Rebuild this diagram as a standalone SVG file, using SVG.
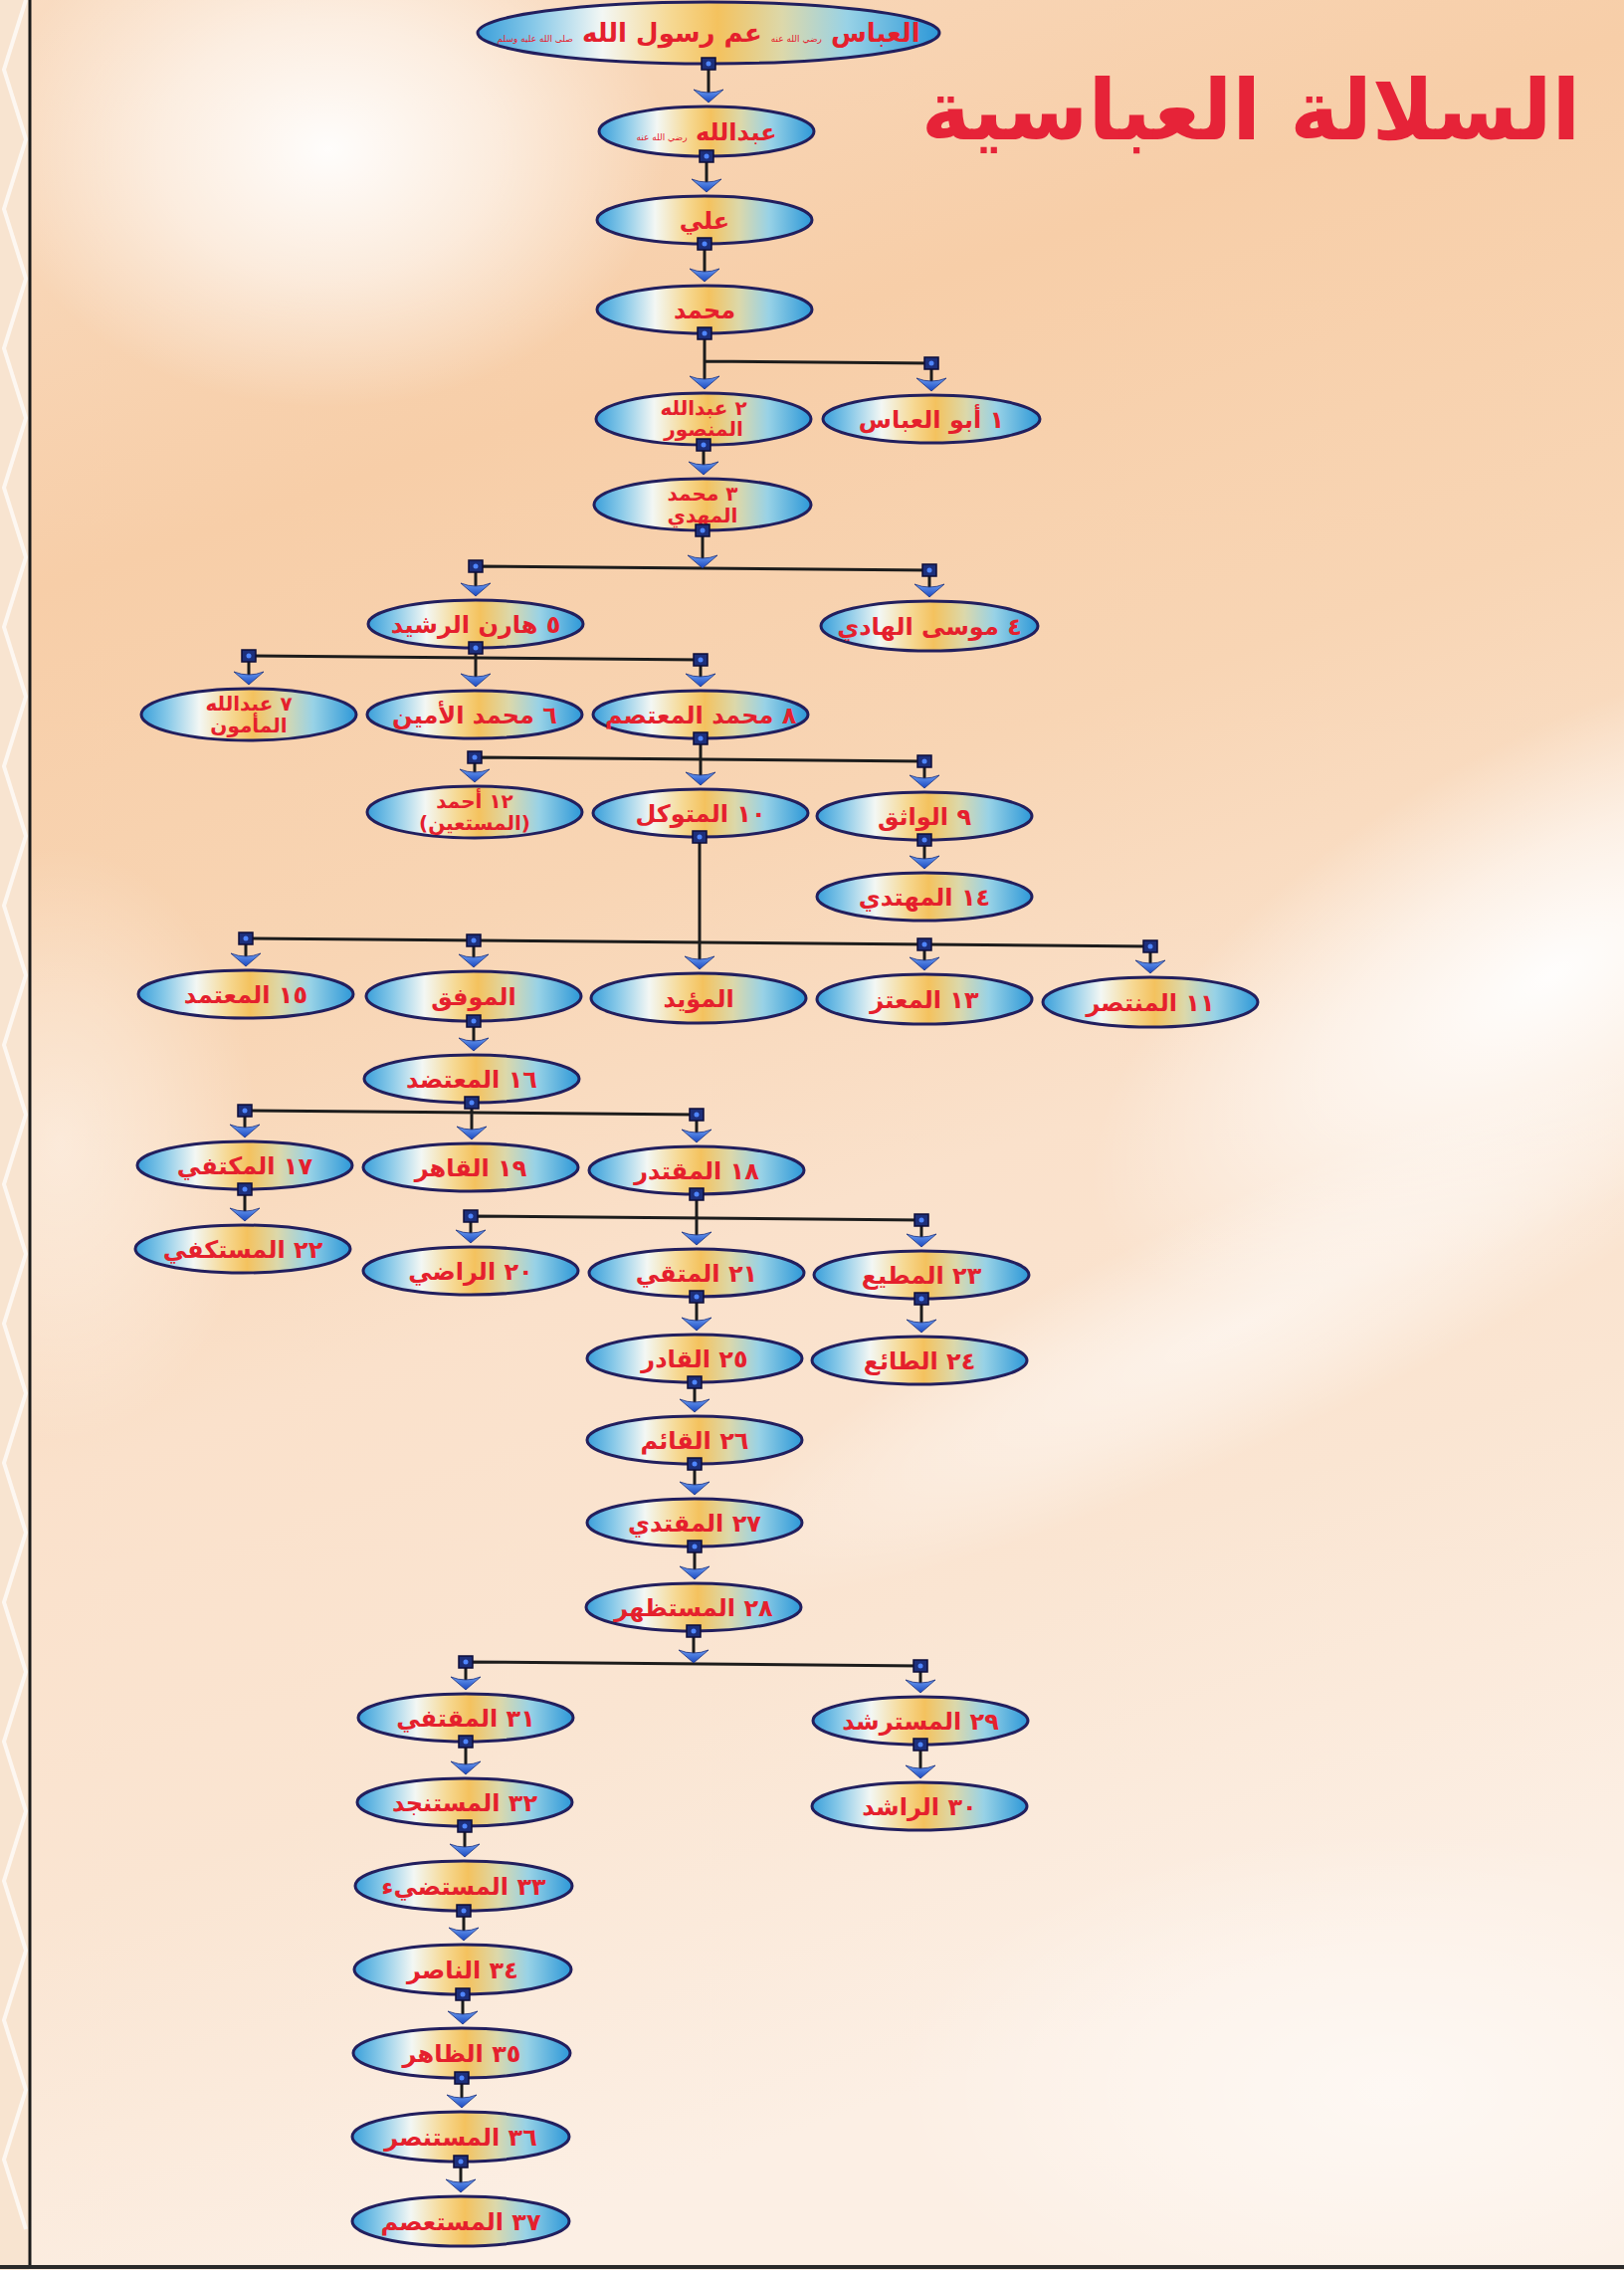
<svg xmlns="http://www.w3.org/2000/svg" xmlns:xlink="http://www.w3.org/1999/xlink" width="1632" height="2281" viewBox="0 0 1632 2281">
<style>
.el{fill:url(#eg);stroke:#221f5e;stroke-width:3}
.t{font-family:"DejaVu Sans",sans-serif;font-weight:bold;font-size:24px;fill:#e5202d;text-anchor:middle;direction:rtl}
.t2{font-size:20px}
.h{font-size:9px;font-weight:normal}
.ln{stroke:#1c1c1c;stroke-width:3;fill:none}
.title{font-family:"DejaVu Sans",sans-serif;font-weight:bold;font-size:84px;fill:#e62338;text-anchor:middle;direction:rtl}
</style>
<defs>
<linearGradient id="eg" x1="0" y1="0" x2="1" y2="0">
<stop offset="0" stop-color="#3a9fda"/>
<stop offset="0.12" stop-color="#86c8e8"/>
<stop offset="0.27" stop-color="#f3f7f4"/>
<stop offset="0.42" stop-color="#f6d892"/>
<stop offset="0.52" stop-color="#f4c25e"/>
<stop offset="0.66" stop-color="#dcd8aa"/>
<stop offset="0.8" stop-color="#98d2e6"/>
<stop offset="1" stop-color="#2d98d8"/>
</linearGradient>
<linearGradient id="ag" x1="0" y1="0" x2="0" y2="1">
<stop offset="0" stop-color="#6a9cf2"/>
<stop offset="1" stop-color="#1a48bf"/>
</linearGradient>
<linearGradient id="bg" x1="0" y1="0" x2="0.25" y2="1">
<stop offset="0" stop-color="#f9dcc2"/>
<stop offset="0.25" stop-color="#f7cea8"/>
<stop offset="0.45" stop-color="#f8d5b4"/>
<stop offset="0.62" stop-color="#fae1cb"/>
<stop offset="0.8" stop-color="#fae5d2"/>
<stop offset="1" stop-color="#fcefe4"/>
</linearGradient>
<radialGradient id="glow" cx="0.5" cy="0.5" r="0.5">
<stop offset="0" stop-color="#ffffff" stop-opacity="0.95"/>
<stop offset="0.5" stop-color="#ffffff" stop-opacity="0.55"/>
<stop offset="1" stop-color="#ffffff" stop-opacity="0"/>
</radialGradient>
<g id="sq"><rect x="-7" y="-6" width="14" height="12" fill="#1d2f7a" stroke="#0e0e3a" stroke-width="1.5"/><circle r="2.5" fill="#4f86ff"/></g>
<path id="ar" d="M0,0 L-15,-13 Q0,-7 15,-13 Z" fill="url(#ag)" stroke="#1b2f7c" stroke-width="0.8"/>
</defs>

<g id="background">
<rect x="0" y="0" width="1632" height="2281" fill="url(#bg)"/>
<ellipse cx="330" cy="150" rx="340" ry="260" fill="url(#glow)"/>
<ellipse cx="1560" cy="980" rx="520" ry="230" fill="url(#glow)" transform="rotate(-30 1560 980)"/>
<ellipse cx="1250" cy="1330" rx="600" ry="120" fill="url(#glow)" opacity="0.6" transform="rotate(-25 1250 1330)"/>
<ellipse cx="1400" cy="2100" rx="500" ry="260" fill="url(#glow)" opacity="0.6"/>
<ellipse cx="60" cy="1150" rx="200" ry="300" fill="url(#glow)" opacity="0.5"/>
<rect x="0" y="0" width="29" height="2281" fill="#f8e4d0"/>
<polyline points="26,0 4,70 26,140 4,210 26,280 4,350 26,420 4,490 26,560 4,630 26,700 4,770 26,840 4,910 26,980 4,1050 26,1120 4,1190 26,1260 4,1330 26,1400 4,1470 26,1540 4,1610 26,1680 4,1750 26,1820 4,1890 26,1960 4,2030 26,2100 4,2170 26,2240" fill="none" stroke="#ffffff" stroke-width="4" opacity="0.7"/>
<line x1="30" y1="0" x2="30" y2="2278" stroke="#1a1a1a" stroke-width="3"/>
<line x1="0" y1="2278" x2="1632" y2="2278" stroke="#2a2a2a" stroke-width="4"/>
</g>

<text class="title" x="1257" y="140">السلالة العباسية</text>

<g id="nodes">
<g id="n-abbas"><ellipse class="el" cx="712" cy="33" rx="232" ry="31"/><text class="t" x="712" y="42" style="font-size:26px">العباس <tspan class="h">رضي الله عنه</tspan> عم رسول الله <tspan class="h">صلى الله عليه وسلم</tspan></text></g>
<g id="n-abdallah"><ellipse class="el" cx="710" cy="132" rx="108" ry="25"/><text class="t" x="710" y="141">عبدالله <tspan class="h">رضي الله عنه</tspan></text></g>
<g id="n-ali"><ellipse class="el" cx="708" cy="221" rx="108" ry="24"/><text class="t" x="708" y="230">علي</text></g>
<g id="n-muhammad"><ellipse class="el" cx="708" cy="311" rx="108" ry="24"/><text class="t" x="708" y="320">محمد</text></g>
<g id="n2"><ellipse class="el" cx="707" cy="421" rx="108" ry="26"/><text class="t t2" x="707" y="417">٢ عبدالله</text><text class="t t2" x="707" y="438">المنصور</text></g>
<g id="n1"><ellipse class="el" cx="936" cy="421" rx="109" ry="24"/><text class="t" x="936" y="430">١ أبو العباس</text></g>
<g id="n3"><ellipse class="el" cx="706" cy="507" rx="109" ry="26"/><text class="t t2" x="706" y="503">٣ محمد</text><text class="t t2" x="706" y="525">المهدي</text></g>
<g id="n5"><ellipse class="el" cx="478" cy="627" rx="108" ry="24"/><text class="t" x="478" y="636">٥ هارن الرشيد</text></g>
<g id="n4"><ellipse class="el" cx="934" cy="629" rx="109" ry="25"/><text class="t" x="934" y="638">٤ موسى الهادي</text></g>
<g id="n7"><ellipse class="el" cx="250" cy="718" rx="108" ry="26"/><text class="t t2" x="250" y="714">٧ عبدالله</text><text class="t t2" x="250" y="736">المأمون</text></g>
<g id="n6"><ellipse class="el" cx="477" cy="718" rx="108" ry="24"/><text class="t" x="477" y="727">٦ محمد الأمين</text></g>
<g id="n8"><ellipse class="el" cx="704" cy="718" rx="108" ry="24"/><text class="t" x="704" y="727">٨ محمد المعتصم</text></g>
<g id="n12"><ellipse class="el" cx="477" cy="816" rx="108" ry="26"/><text class="t t2" x="477" y="812">١٢ أحمد</text><text class="t t2" x="477" y="834">(المستعين)</text></g>
<g id="n10"><ellipse class="el" cx="704" cy="817" rx="108" ry="24"/><text class="t" x="704" y="826">١٠ المتوكل</text></g>
<g id="n9"><ellipse class="el" cx="929" cy="820" rx="108" ry="24"/><text class="t" x="929" y="829">٩ الواثق</text></g>
<g id="n14"><ellipse class="el" cx="929" cy="901" rx="108" ry="24"/><text class="t" x="929" y="910">١٤ المهتدي</text></g>
<g id="n15"><ellipse class="el" cx="247" cy="999" rx="108" ry="24"/><text class="t" x="247" y="1008">١٥ المعتمد</text></g>
<g id="n-muwaffaq"><ellipse class="el" cx="476" cy="1001" rx="108" ry="25"/><text class="t" x="476" y="1010">الموفق</text></g>
<g id="n-muayyad"><ellipse class="el" cx="702" cy="1003" rx="108" ry="25"/><text class="t" x="702" y="1012">المؤيد</text></g>
<g id="n13"><ellipse class="el" cx="929" cy="1004" rx="108" ry="25"/><text class="t" x="929" y="1013">١٣ المعتز</text></g>
<g id="n11"><ellipse class="el" cx="1156" cy="1007" rx="108" ry="25"/><text class="t" x="1156" y="1016">١١ المنتصر</text></g>
<g id="n16"><ellipse class="el" cx="474" cy="1084" rx="108" ry="24"/><text class="t" x="474" y="1093">١٦ المعتضد</text></g>
<g id="n17"><ellipse class="el" cx="246" cy="1171" rx="108" ry="24"/><text class="t" x="246" y="1180">١٧ المكتفي</text></g>
<g id="n19"><ellipse class="el" cx="473" cy="1173" rx="108" ry="24"/><text class="t" x="473" y="1182">١٩ القاهر</text></g>
<g id="n18"><ellipse class="el" cx="700" cy="1176" rx="108" ry="24"/><text class="t" x="700" y="1185">١٨ المقتدر</text></g>
<g id="n22"><ellipse class="el" cx="244" cy="1255" rx="108" ry="24"/><text class="t" x="244" y="1264">٢٢ المستكفي</text></g>
<g id="n20"><ellipse class="el" cx="473" cy="1277" rx="108" ry="24"/><text class="t" x="473" y="1286">٢٠ الراضي</text></g>
<g id="n21"><ellipse class="el" cx="700" cy="1279" rx="108" ry="24"/><text class="t" x="700" y="1288">٢١ المتقي</text></g>
<g id="n23"><ellipse class="el" cx="926" cy="1281" rx="108" ry="24"/><text class="t" x="926" y="1290">٢٣ المطيع</text></g>
<g id="n25"><ellipse class="el" cx="698" cy="1365" rx="108" ry="24"/><text class="t" x="698" y="1374">٢٥ القادر</text></g>
<g id="n24"><ellipse class="el" cx="924" cy="1367" rx="108" ry="24"/><text class="t" x="924" y="1376">٢٤ الطائع</text></g>
<g id="n26"><ellipse class="el" cx="698" cy="1447" rx="108" ry="24"/><text class="t" x="698" y="1456">٢٦ القائم</text></g>
<g id="n27"><ellipse class="el" cx="698" cy="1530" rx="108" ry="24"/><text class="t" x="698" y="1539">٢٧ المقتدي</text></g>
<g id="n28"><ellipse class="el" cx="697" cy="1615" rx="108" ry="24"/><text class="t" x="697" y="1624">٢٨ المستظهر</text></g>
<g id="n31"><ellipse class="el" cx="468" cy="1726" rx="108" ry="24"/><text class="t" x="468" y="1735">٣١ المقتفي</text></g>
<g id="n29"><ellipse class="el" cx="925" cy="1729" rx="108" ry="24"/><text class="t" x="925" y="1738">٢٩ المسترشد</text></g>
<g id="n32"><ellipse class="el" cx="467" cy="1811" rx="108" ry="24"/><text class="t" x="467" y="1820">٣٢ المستنجد</text></g>
<g id="n30"><ellipse class="el" cx="924" cy="1815" rx="108" ry="24"/><text class="t" x="924" y="1824">٣٠ الراشد</text></g>
<g id="n33"><ellipse class="el" cx="466" cy="1895" rx="109" ry="25"/><text class="t" x="466" y="1904">٣٣ المستضيء</text></g>
<g id="n34"><ellipse class="el" cx="465" cy="1979" rx="109" ry="25"/><text class="t" x="465" y="1988">٣٤ الناصر</text></g>
<g id="n35"><ellipse class="el" cx="464" cy="2063" rx="109" ry="25"/><text class="t" x="464" y="2072">٣٥ الظاهر</text></g>
<g id="n36"><ellipse class="el" cx="463" cy="2147" rx="109" ry="25"/><text class="t" x="463" y="2156">٣٦ المستنصر</text></g>
<g id="n37"><ellipse class="el" cx="463" cy="2232" rx="109" ry="25"/><text class="t" x="463" y="2241">٣٧ المستعصم</text></g>
</g>

<g id="connectors">
<path class="ln" d="M712,64V100 M710,157V190 M708,245V280 M707,447V474 M929,844V870 M476,1026V1053 M246,1195V1224 M700,1303V1334 M926,1305V1336 M698,1389V1416 M698,1471V1499 M698,1554V1584 M468,1750V1780 M925,1753V1784 M467,1835V1863 M466,1920V1947 M465,2004V2031 M464,2088V2115 M463,2172V2200"/>
<use href="#sq" x="712" y="64"/><use href="#ar" x="712" y="103"/>
<use href="#sq" x="710" y="157"/><use href="#ar" x="710" y="193"/>
<use href="#sq" x="708" y="245"/><use href="#ar" x="708" y="283"/>
<use href="#sq" x="707" y="447"/><use href="#ar" x="707" y="477"/>
<use href="#sq" x="929" y="844"/><use href="#ar" x="929" y="873"/>
<use href="#sq" x="476" y="1026"/><use href="#ar" x="476" y="1056"/>
<use href="#sq" x="246" y="1195"/><use href="#ar" x="246" y="1227"/>
<use href="#sq" x="700" y="1303"/><use href="#ar" x="700" y="1337"/>
<use href="#sq" x="926" y="1305"/><use href="#ar" x="926" y="1339"/>
<use href="#sq" x="698" y="1389"/><use href="#ar" x="698" y="1419"/>
<use href="#sq" x="698" y="1471"/><use href="#ar" x="698" y="1502"/>
<use href="#sq" x="698" y="1554"/><use href="#ar" x="698" y="1587"/>
<use href="#sq" x="468" y="1750"/><use href="#ar" x="468" y="1783"/>
<use href="#sq" x="925" y="1753"/><use href="#ar" x="925" y="1787"/>
<use href="#sq" x="467" y="1835"/><use href="#ar" x="467" y="1866"/>
<use href="#sq" x="466" y="1920"/><use href="#ar" x="466" y="1950"/>
<use href="#sq" x="465" y="2004"/><use href="#ar" x="465" y="2034"/>
<use href="#sq" x="464" y="2088"/><use href="#ar" x="464" y="2118"/>
<use href="#sq" x="463" y="2172"/><use href="#ar" x="463" y="2203"/>

<path class="ln" d="M708,335V388 M708,363L936,365 M936,365V390"/>
<use href="#sq" x="708" y="335"/><use href="#sq" x="936" y="365"/>
<use href="#ar" x="708" y="391"/><use href="#ar" x="936" y="393"/>

<path class="ln" d="M706,533V568 M478,569L934,573 M478,569V596 M934,573V597"/>
<use href="#sq" x="706" y="533"/><use href="#sq" x="478" y="569"/><use href="#sq" x="934" y="573"/>
<use href="#ar" x="706" y="571"/><use href="#ar" x="478" y="599"/><use href="#ar" x="934" y="600"/>

<path class="ln" d="M478,651V687 M250,659L704,663 M250,659V685 M704,663V687"/>
<use href="#sq" x="478" y="651"/><use href="#sq" x="250" y="659"/><use href="#sq" x="704" y="663"/>
<use href="#ar" x="478" y="690"/><use href="#ar" x="250" y="688"/><use href="#ar" x="704" y="690"/>

<path class="ln" d="M704,742V786 M477,761L929,765 M477,761V783 M929,765V789"/>
<use href="#sq" x="704" y="742"/><use href="#sq" x="477" y="761"/><use href="#sq" x="929" y="765"/>
<use href="#ar" x="704" y="789"/><use href="#ar" x="477" y="786"/><use href="#ar" x="929" y="792"/>

<path class="ln" d="M703,841V971 M247,943L1156,951 M247,943V968 M476,945V969 M929,949V972 M1156,951V975"/>
<use href="#sq" x="703" y="841"/><use href="#sq" x="247" y="943"/><use href="#sq" x="476" y="945"/><use href="#sq" x="929" y="949"/><use href="#sq" x="1156" y="951"/>
<use href="#ar" x="703" y="974"/><use href="#ar" x="247" y="971"/><use href="#ar" x="476" y="972"/><use href="#ar" x="929" y="975"/><use href="#ar" x="1156" y="978"/>

<path class="ln" d="M474,1108V1142 M246,1116L700,1120 M246,1116V1140 M700,1120V1145"/>
<use href="#sq" x="474" y="1108"/><use href="#sq" x="246" y="1116"/><use href="#sq" x="700" y="1120"/>
<use href="#ar" x="474" y="1145"/><use href="#ar" x="246" y="1143"/><use href="#ar" x="700" y="1148"/>

<path class="ln" d="M700,1200V1248 M473,1222L926,1226 M473,1222V1246 M926,1226V1250"/>
<use href="#sq" x="700" y="1200"/><use href="#sq" x="473" y="1222"/><use href="#sq" x="926" y="1226"/>
<use href="#ar" x="700" y="1251"/><use href="#ar" x="473" y="1249"/><use href="#ar" x="926" y="1253"/>

<path class="ln" d="M697,1639V1668 M468,1670L925,1674 M468,1670V1695 M925,1674V1698"/>
<use href="#sq" x="697" y="1639"/><use href="#sq" x="468" y="1670"/><use href="#sq" x="925" y="1674"/>
<use href="#ar" x="697" y="1671"/><use href="#ar" x="468" y="1698"/><use href="#ar" x="925" y="1701"/>
</g>
</svg>
